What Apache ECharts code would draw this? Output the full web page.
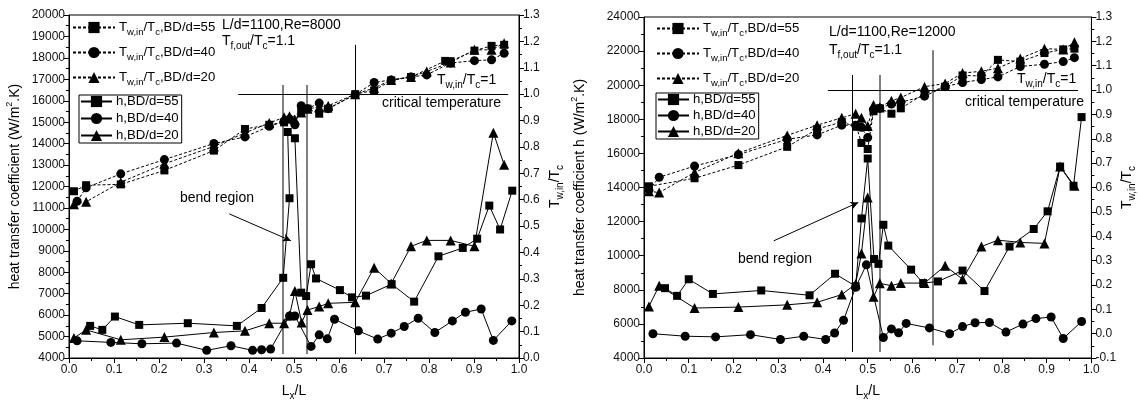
<!DOCTYPE html>
<html><head><meta charset="utf-8">
<script src="https://cdn.jsdelivr.net/npm/echarts@6/dist/echarts.min.js"></script>
<style>html,body{margin:0;padding:0;background:#fff}#c{width:1138px;height:406px}</style>
</head><body><div id="c"></div>
<script>
// ---------- Left panel: L/d=1100, Re=8000 ----------
const L_h55 = [[0.047,5498],[0.074,5313],[0.102,5933],[0.156,5545],[0.264,5623],[0.373,5498],[0.428,6333],[0.476,7741],[0.490,11453],[0.486,14541],[0.502,14250],[0.516,7047],[0.527,6889],[0.538,8373],[0.549,7710],[0.602,7167],[0.629,6829],[0.660,6908],[0.717,7446],[0.767,6629],[0.821,8744],[0.875,9134],[0.907,9565],[0.934,11109],[0.958,9996],[0.985,11805]];
const L_h40 = [[0.018,4802],[0.093,4728],[0.162,4663],[0.239,4696],[0.306,4357],[0.360,4571],[0.408,4357],[0.428,4385],[0.448,4417],[0.490,5960],[0.502,5960],[0.538,4541],[0.556,5081],[0.574,4895],[0.590,5809],[0.643,5266],[0.686,4881],[0.716,5159],[0.745,5470],[0.776,5855],[0.813,5190],[0.852,5731],[0.881,6133],[0.916,6286],[0.943,4821],[0.984,5731]];
const L_h20 = [[0.011,4928],[0.038,5313],[0.115,4849],[0.212,4974],[0.322,5190],[0.391,5266],[0.445,5623],[0.478,5623],[0.490,5980],[0.502,7121],[0.517,5656],[0.530,6240],[0.556,6398],[0.576,6551],[0.636,6597],[0.678,8207],[0.716,7478],[0.760,9208],[0.795,9486],[0.848,9486],[0.901,9208],[0.943,14513],[0.967,13011]];
const L_T55 = [[0.011,0.632],[0.038,0.655],[0.115,0.658],[0.212,0.711],[0.322,0.786],[0.391,0.868],[0.445,0.884],[0.478,0.893],[0.516,0.935],[0.530,0.945],[0.556,0.926],[0.576,0.945],[0.636,1.000],[0.678,1.014],[0.716,1.052],[0.760,1.065],[0.836,1.126],[0.848,1.125],[0.901,1.165],[0.939,1.183],[0.967,1.187]];
const L_T40 = [[0.018,0.594],[0.038,0.645],[0.115,0.698],[0.212,0.752],[0.322,0.813],[0.391,0.838],[0.445,0.878],[0.478,0.897],[0.490,0.905],[0.502,0.884],[0.516,0.956],[0.530,0.945],[0.556,0.966],[0.576,0.945],[0.636,0.998],[0.678,1.044],[0.716,1.054],[0.760,1.065],[0.795,1.073],[0.848,1.118],[0.901,1.127],[0.939,1.130],[0.967,1.155]];
const L_T20 = [[0.011,0.583],[0.038,0.592],[0.115,0.666],[0.212,0.736],[0.322,0.802],[0.391,0.853],[0.445,0.891],[0.478,0.912],[0.490,0.916],[0.502,0.903],[0.516,0.930],[0.530,0.945],[0.556,0.950],[0.576,0.956],[0.636,1.000],[0.678,1.023],[0.716,1.054],[0.760,1.065],[0.795,1.086],[0.848,1.120],[0.901,1.168],[0.939,1.168],[0.967,1.193]];
const L_vlines = [[0.476,0.015,1.035],[0.528,0.015,1.035],[0.636,0.015,1.187]];
const L_critLine = [[0.376,1.0],[0.976,1.0]];
const L_arrow = [[0.356,10724],[0.493,9472]];

// ---------- Right panel: L/d=1100, Re=12000 ----------
const R_h55 = [[0.047,8096],[0.074,7645],[0.100,8620],[0.154,7758],[0.262,7961],[0.370,7679],[0.427,8941],[0.473,8208],[0.486,12186],[0.500,15701],[0.514,9803],[0.524,9521],[0.535,11814],[0.546,10592],[0.597,9183],[0.624,8394],[0.657,8490],[0.712,9127],[0.761,7927],[0.817,10535],[0.871,11566],[0.902,12603],[0.930,15228],[0.960,14101],[0.978,18130]];
const R_h40 = [[0.020,5425],[0.092,5279],[0.160,5239],[0.238,5369],[0.305,5088],[0.357,5279],[0.406,5088],[0.426,5465],[0.446,6214],[0.473,8150],[0.497,9465],[0.535,5200],[0.553,5707],[0.569,5482],[0.586,6028],[0.638,5763],[0.683,5425],[0.712,5842],[0.740,6067],[0.772,6085],[0.809,5521],[0.847,5989],[0.876,6310],[0.910,6406],[0.937,5144],[0.978,6141]];
const R_h20 = [[0.011,7025],[0.034,8242],[0.113,6930],[0.211,6986],[0.320,7117],[0.387,7268],[0.442,7718],[0.473,8338],[0.486,10124],[0.500,13408],[0.513,7588],[0.527,8377],[0.553,8242],[0.574,8394],[0.627,8394],[0.673,9408],[0.712,8620],[0.754,10535],[0.791,10913],[0.841,10778],[0.895,10721],[0.930,15228],[0.962,14101]];
const R_T55 = [[0.011,0.605],[0.113,0.638],[0.211,0.692],[0.320,0.767],[0.387,0.840],[0.442,0.869],[0.475,0.849],[0.486,0.783],[0.500,0.758],[0.513,0.913],[0.527,0.925],[0.553,0.903],[0.574,0.925],[0.627,0.985],[0.673,1.014],[0.712,1.060],[0.754,1.058],[0.791,1.124],[0.841,1.117],[0.895,1.152],[0.937,1.167],[0.962,1.170]];
const R_T40 = [[0.011,0.589],[0.034,0.642],[0.113,0.688],[0.211,0.735],[0.320,0.798],[0.387,0.816],[0.442,0.856],[0.473,0.856],[0.486,0.847],[0.500,0.805],[0.513,0.919],[0.527,0.925],[0.553,0.943],[0.574,0.950],[0.627,0.975],[0.673,1.014],[0.712,1.031],[0.754,1.043],[0.791,1.054],[0.841,1.097],[0.895,1.106],[0.937,1.117],[0.962,1.133]];
const R_T20 = [[0.011,0.585],[0.034,0.579],[0.113,0.662],[0.211,0.741],[0.320,0.814],[0.387,0.856],[0.442,0.886],[0.473,0.903],[0.486,0.886],[0.500,0.853],[0.513,0.939],[0.527,0.929],[0.553,0.956],[0.574,0.969],[0.627,1.014],[0.673,1.027],[0.712,1.070],[0.754,1.077],[0.791,1.090],[0.841,1.130],[0.895,1.170],[0.937,1.167],[0.962,1.196]];
const R_vlines = [[0.466,-0.075,1.062],[0.527,-0.075,1.062],[0.645,-0.048,1.163]];
const R_critLine = [[0.411,1.0],[0.970,1.0]];
const R_arrow = [[0.290,10873],[0.479,13127]];

const xTicks = {min:0, max:1, interval:0.1};
const L_hAxis = {min:4000, max:20000, interval:1000};
const L_TAxis = {min:0, max:1.3, interval:0.1};
const R_hAxis = {min:4000, max:24000, interval:2000};
const R_TAxis = {min:-0.1, max:1.3, interval:0.1};

const FONT = 'Liberation Sans, Arial, Helvetica, sans-serif';
const rich = {
  b:{fontSize:14, fontFamily:FONT, color:'#000', lineHeight:20},
  s:{fontSize:10, fontFamily:FONT, color:'#000', verticalAlign:'bottom', lineHeight:11},
  p:{fontSize:9, fontFamily:FONT, color:'#000', verticalAlign:'top', lineHeight:10}
};
const legRich = {
  b:{fontSize:13.2, fontFamily:FONT, color:'#000', lineHeight:19},
  s:{fontSize:9.5, fontFamily:FONT, color:'#000', verticalAlign:'bottom', lineHeight:10}
};
const legendLabels = {
  LT55:'{b|T}{s|w,in}{b|/T}{s|c}{b|,BD/d=55}', LT40:'{b|T}{s|w,in}{b|/T}{s|c}{b|,BD/d=40}', LT20:'{b|T}{s|w,in}{b|/T}{s|c}{b|,BD/d=20}',
  RT55:'{b|T}{s|w,in}{b|/T}{s|c}{b|,BD/d=55}', RT40:'{b|T}{s|w,in}{b|/T}{s|c}{b|,BD/d=40}', RT20:'{b|T}{s|w,in}{b|/T}{s|c}{b|,BD/d=20}',
  Lh55:'{b|h,BD/d=55}', Lh40:'{b|h,BD/d=40}', Lh20:'{b|h,BD/d=20}',
  Rh55:'{b|h,BD/d=55}', Rh40:'{b|h,BD/d=40}', Rh20:'{b|h,BD/d=20}'
};

function axisCommon(){
  return {
    type:'value',
    axisLine:{show:true, onZero:false, lineStyle:{color:'#000', width:1}},
    axisTick:{show:true, length:5, lineStyle:{color:'#000', width:1}},
    minorTick:{show:true, splitNumber:2, length:3, lineStyle:{color:'#000', width:1}},
    splitLine:{show:false},
    axisLabel:{color:'#111', fontSize:12, fontFamily:FONT, margin:4}
  };
}
function xAx(g){
  return Object.assign(axisCommon(), xTicks, {gridIndex:g, position:'bottom',
    axisLabel:{color:'#111', fontSize:12, fontFamily:FONT, margin:6, formatter:v=>v.toFixed(1)},
    name:'{b|L}{s|x}{b|/L}', nameLocation:'middle', nameGap:23, nameTextStyle:{rich:rich}});
}
function yAx(g, rng, pos, dec, name, gap){
  const a = Object.assign(axisCommon(), rng, {gridIndex:g, position:pos,
    name:name, nameLocation:'middle', nameGap:gap, nameRotate:90, nameTextStyle:{rich:rich}});
  a.axisLabel = {color:'#111', fontSize:12, fontFamily:FONT, margin:4, formatter:v=>v.toFixed(dec)};
  return a;
}
const hName = '{b|heat transfer coefficient (W/m}{p|2}{b|.K)}';
const hName2 = '{b|heat transfer coefficient h (W/m}{p|2}{b|.K)}';
const TName = '{b|T}{s|w,in}{b|/T}{s|c}';

function ser(name, data, xi, yi, sym, size, dashed){
  return {
    name:name, type:'line', xAxisIndex:xi, yAxisIndex:yi, data:data,
    symbol:sym, symbolSize:size, showSymbol:true, z:5,
    lineStyle:{color:'#000', width:1, type: dashed ? [3,2] : 'solid'},
    itemStyle:{color:'#000', borderColor:'#000', borderWidth:0},
    emphasis:{disabled:true}, silent:true
  };
}
function refLines(vlines, crit, xi, yi){
  const d = vlines.map((v,i)=>[
    {coord:[v[0], v[1]], lineStyle:{color: (i===2 ? (xi===0?'#000':'#808080') : (xi===0?'#808080':(i===0?'#000':'#808080'))), width: ((xi===0 && i<2)||(xi===1 && i>0)) ? 2 : 1, type:'solid'}},
    {coord:[v[0], v[2]]}
  ]);
  d.push([{coord:crit[0], lineStyle:{color:'#000', width:1, type:'solid'}},{coord:crit[1]}]);
  return {
    name:'ref'+xi, type:'line', xAxisIndex:xi, yAxisIndex:yi, data:[], silent:true,
    markLine:{silent:true, symbol:['none','none'], label:{show:false}, animation:false, data:d}
  };
}
function arrowSer(arr, xi, yi){
  return {
    name:'arr'+xi, type:'line', xAxisIndex:xi, yAxisIndex:yi, data:[], silent:true,
    markLine:{silent:true, symbol:['none','arrow'], symbolSize:[6,8], label:{show:false}, animation:false,
      data:[[{coord:arr[0], lineStyle:{color:'#000', width:1, type:'solid'}},{coord:arr[1]}]]}
  };
}
function legend(names, left, top, iw, gap, bordered){
  return {
    orient:'vertical', left:left, top:top, data:names, itemWidth:iw, itemHeight:14, itemGap:gap,
    selectedMode:false, padding: bordered ? [0,3,1,1] : 0,
    borderColor:'#000', borderWidth: bordered ? 1 : 0, backgroundColor:'#fff',
    formatter: n => legendLabels[n],
    textStyle:{rich:legRich, padding:[0,0,0,-1]}
  };
}
function txt(x, y, t){
  return {type:'text', left:x, top:y, z:100, style:{text:t, rich:rich, font:'14px '+FONT, fill:'#000'}};
}

const option = {
  animation:false,
  backgroundColor:'#fff',
  grid:[
    {left:69, top:15, width:450, height:345, show:true, borderColor:'#000', borderWidth:1, backgroundColor:'transparent'},
    {left:644, top:17, width:451, height:355, show:true, borderColor:'#000', borderWidth:1, backgroundColor:'transparent'}
  ],
  xAxis:[xAx(0), xAx(1)],
  yAxis:[
    yAx(0, L_hAxis, 'left', 0, hName, 44),
    yAx(0, L_TAxis, 'right', 1, TName, 26),
    yAx(1, R_hAxis, 'left', 0, hName2, 54),
    yAx(1, R_TAxis, 'right', 1, TName, 24)
  ],
  legend:[
    legend(['LT55','LT40','LT20'], 72, 21, 42, 9, false),
    legend(['Lh55','Lh40','Lh20'], 79, 95, 31, 4, true),
    legend(['RT55','RT40','RT20'], 656, 22, 42, 9, false),
    legend(['Rh55','Rh40','Rh20'], 656, 93, 31, 3, true)
  ],
  series:[
    refLines(L_vlines, L_critLine, 0, 1),
    refLines(R_vlines, R_critLine, 1, 3),
    arrowSer(L_arrow, 0, 0),
    arrowSer(R_arrow, 1, 2),
    ser('LT55', L_T55, 0, 1, 'rect', 8, true),
    ser('LT40', L_T40, 0, 1, 'circle', 9, true),
    ser('LT20', L_T20, 0, 1, 'triangle', 10, true),
    ser('Lh55', L_h55, 0, 0, 'rect', 8, false),
    ser('Lh40', L_h40, 0, 0, 'circle', 9, false),
    ser('Lh20', L_h20, 0, 0, 'triangle', 10, false),
    ser('RT55', R_T55, 1, 3, 'rect', 8, true),
    ser('RT40', R_T40, 1, 3, 'circle', 9, true),
    ser('RT20', R_T20, 1, 3, 'triangle', 10, true),
    ser('Rh55', R_h55, 1, 2, 'rect', 8, false),
    ser('Rh40', R_h40, 1, 2, 'circle', 9, false),
    ser('Rh20', R_h20, 1, 2, 'triangle', 10, false)
  ],
  graphic:[
    txt(222, 18, '{b|L/d=1100,Re=8000}'),
    txt(222, 34, '{b|T}{s|f,out}{b|/T}{s|c}{b|=1.1}'),
    txt(437, 73, '{b|T}{s|w,in}{b|/T}{s|c}{b|=1}'),
    txt(382, 96, '{b|critical temperature}'),
    txt(180, 191, '{b|bend region}'),
    txt(829, 25, '{b|L/d=1100,Re=12000}'),
    txt(829, 43, '{b|T}{s|f,out}{b|/T}{s|c}{b|=1.1}'),
    txt(1017, 72, '{b|T}{s|w,in}{b|/T}{s|c}{b|=1}'),
    txt(965, 95, '{b|critical temperature}'),
    txt(738, 252, '{b|bend region}')
  ]
};
const chart = echarts.init(document.getElementById('c'), null, {renderer:'canvas'});
chart.setOption(option);
</script>
</body></html>
